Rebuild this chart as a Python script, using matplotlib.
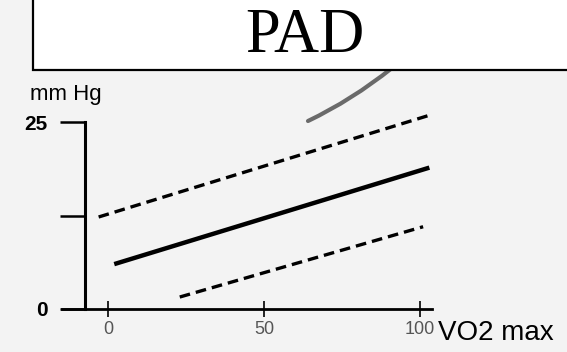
import matplotlib
matplotlib.use("Agg")
import matplotlib.pyplot as plt
from matplotlib.patches import Rectangle, PathPatch
from matplotlib.path import Path

plt.rcParams["font.family"] = ["Liberation Sans", "DejaVu Sans"]

# regression of mean pulmonary artery pressure against VO2 max
mean_x = [2, 103]
mean_y = [6.0, 18.9]
upper_x = [-3, 103]
upper_y = [12.3, 25.9]
lower_x = [23, 101]
lower_y = [1.6, 11.0]

x_ticks = [0, 50, 100]
x_labels = ["0", "50", "100"]
y_ticks = [0, 12.5, 25]
y_labels = ["0", "", "25"]

W, H = 567, 352
fig = plt.figure(figsize=(W / 100, H / 100), dpi=100, facecolor="#f3f3f3")

# axes placed so that x: 0 -> 108px, 100 -> 420px ; y: 0 -> 309px, 25 -> 122px
xlim = (-15, 110)
ylim = (-2, 28)
px_x = 3.12
px_y = 187 / 25
left = 108 + xlim[0] * px_x
right = 108 + xlim[1] * px_x
bottom = 309 - ylim[0] * px_y
top = 309 - ylim[1] * px_y
ax = fig.add_axes([left / W, 1 - bottom / H, (right - left) / W, (bottom - top) / H])
ax.set_xlim(*xlim)
ax.set_ylim(*ylim)
ax.patch.set_visible(False)

ax.plot(mean_x, mean_y, color="black", lw=3.2, solid_capstyle="butt")
ax.plot(upper_x, upper_y, color="black", lw=2.4, dashes=(3.2, 1.8), dash_capstyle="butt")
ax.plot(lower_x, lower_y, color="black", lw=2.4, dashes=(3.2, 1.8), dash_capstyle="butt")

for s in ("top", "right"):
    ax.spines[s].set_visible(False)
ax.spines["left"].set_position(("data", -7.4))
ax.spines["left"].set_bounds(0, 25)
ax.spines["left"].set_linewidth(2.2)
ax.spines["bottom"].set_position(("data", 0))
ax.spines["bottom"].set_bounds(-14.7, 104)
ax.spines["bottom"].set_linewidth(2.0)

ax.set_yticks(y_ticks)
ax.set_yticklabels(y_labels, fontsize=15, fontweight="bold")
ax.tick_params(axis="y", direction="out", length=18, width=1.8, pad=9)
ax.set_xticks(x_ticks)
ax.set_xticklabels(x_labels, fontsize=13, color="#555555")
ax.tick_params(axis="x", direction="inout", length=12, width=1.2, pad=3)

fig.text(30 / W, 1 - 100 / H, "mm Hg", fontsize=16, va="baseline", ha="left")
fig.text(438 / W, 1 - 340 / H, "VO2 max", fontsize=20, va="baseline", ha="left")

# pen stroke across the sheet, partly under the title box
verts = [(308 / W, 1 - 121 / H), (352 / W, 1 - 100 / H), (392 / W, 1 - 68 / H)]
stroke = PathPatch(Path(verts, [Path.MOVETO, Path.CURVE3, Path.CURVE3]),
                   transform=fig.transFigure, fill=False, edgecolor="#6a6a6a",
                   lw=3.0, capstyle="round")
fig.patches.append(stroke)

box = Rectangle((33 / W, 1 - 70 / H), (W + 10 - 33) / W, 80 / H,
                transform=fig.transFigure, facecolor="white",
                edgecolor="black", lw=1.6, zorder=5)
fig.patches.append(box)
fig.text(305 / W, 1 - 52 / H, "PAD", fontsize=45, family="Liberation Serif",
         ha="center", va="baseline", zorder=6)

fig.savefig("out.png", dpi=100, facecolor=fig.get_facecolor())
